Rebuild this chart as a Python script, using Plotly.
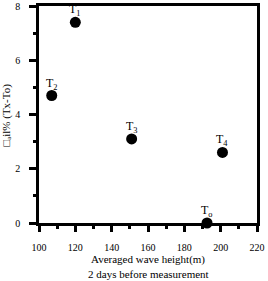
import plotly.graph_objects as go

wave_height = [120, 107, 151, 201, 192.5]
diff_pct = [7.4, 4.7, 3.1, 2.6, 0.0]
point_labels = ["T<sub>1</sub>", "T<sub>2</sub>", "T<sub>3</sub>", "T<sub>4</sub>", "T<sub>o</sub>"]
x_ticks = [100, 120, 140, 160, 180, 200, 220]
y_ticks = [0, 2, 4, 6, 8]
x_title_lines = ["Averaged wave height(m)", "2 days before measurement"]
y_title = "□ₐil% (Tx-To)"

FONT = "Liberation Serif"

fig = go.Figure()
fig.add_trace(go.Scatter(
    x=wave_height, y=diff_pct, mode="markers",
    marker=dict(color="black", size=11),
    cliponaxis=False, showlegend=False,
))

for xv, yv, lab in zip(wave_height, diff_pct, point_labels):
    fig.add_annotation(x=xv, y=yv, text=lab, showarrow=False,
                       yanchor="middle", yshift=12,
                       font=dict(family=FONT, size=12, color="black"))

axis_common = dict(
    showline=True, linecolor="black", linewidth=2.5, mirror=True,
    ticks="outside", tickcolor="black", tickwidth=2.5,
    showgrid=False, zeroline=False, automargin=False,
    tickfont=dict(family=FONT, size=10, color="black"),
)

fig.update_xaxes(
    range=[100, 220], tickvals=x_ticks, ticklen=6,
    minor=dict(ticks="outside", ticklen=3, tickwidth=2.5, tickcolor="black", dtick=10, tick0=100),
    ticklabelstandoff=7,
    **axis_common,
)
fig.update_yaxes(
    range=[0, 8], tickvals=y_ticks, ticklen=7,
    minor=dict(ticks="outside", ticklen=3, tickwidth=2.5, tickcolor="black", dtick=1, tick0=0),
    ticklabelstandoff=7,
    **axis_common,
)

for line, yp in zip(x_title_lines, [-0.166, -0.235]):
    fig.add_annotation(xref="paper", yref="paper", x=0.5, y=yp, text=line,
                       showarrow=False, xanchor="center", yanchor="middle",
                       font=dict(family=FONT, size=11, color="black"))
fig.add_annotation(xref="paper", yref="paper", x=-0.147, y=0.5, text=y_title,
                   textangle=-90, showarrow=False, xanchor="center", yanchor="middle",
                   font=dict(family=FONT, size=11, color="black"))

fig.update_layout(
    width=268, height=281,
    margin=dict(l=39, r=11, t=6, b=58),
    plot_bgcolor="white", paper_bgcolor="white",
)

fig.write_html("out.html")
